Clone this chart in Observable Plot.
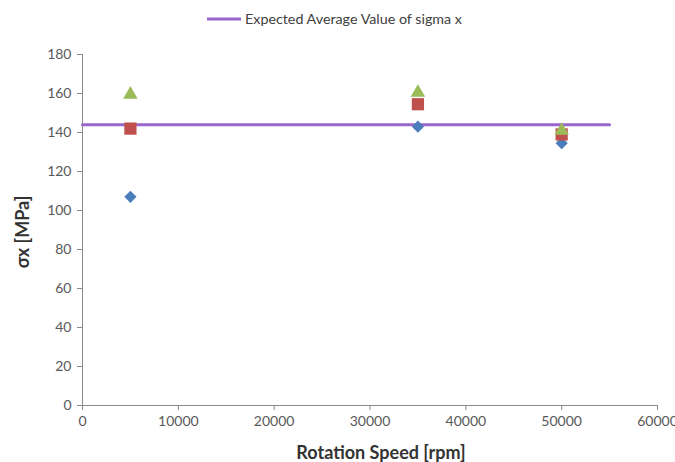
<!DOCTYPE html>
<html>
<head>
<meta charset="utf-8">
<script src="https://cdn.jsdelivr.net/npm/d3@7"></script>
<script src="https://cdn.jsdelivr.net/npm/@observablehq/plot@0.6"></script>
<style>
  html, body { margin: 0; padding: 0; background: #fff; }
  body { width: 675px; height: 462px; overflow: hidden; font-family: Lato, "Open Sans", sans-serif; }
  #legend { height: 36px; position: relative; }
  #legend .item { position: absolute; left: 207px; top: 10px; display: flex; align-items: center; font-size: 14.3px; color: #404040; }
  #legend svg { margin-right: 4px; }
</style>
</head>
<body>
<div id="legend"></div>
<div id="chart"></div>
<script>
// ---- data ----
const speeds = [5000, 35000, 50000];
const seriesDiamond = [107, 143, 134.5];
const seriesSquare = [142, 154.5, 139];
const seriesTriangle = [159.5, 160.5, 141];
const expectedLabel = "Expected Average Value of sigma x";
const expectedValue = 144;
const expectedX = [0, 55000];
const xTicks = [0, 10000, 20000, 30000, 40000, 50000, 60000];
const yTicks = [0, 20, 40, 60, 80, 100, 120, 140, 160, 180];
const xTitle = "Rotation Speed [rpm]";
const yTitle = "σx [MPa]";

const purple = "#9966cc";
const blue = "#4a7ebb";
const red = "#c0504d";
const green = "#9bbb59";
const axisGray = "#8a8a8a";

const toRows = (vals) => speeds.map((s, i) => ({x: s, y: vals[i]}));
const expectedRows = expectedX.map(x => ({x, y: expectedValue}));

// legend
const leg = document.getElementById("legend");
leg.innerHTML = `<div class="item"><svg width="34" height="6"><line x1="0" x2="34" y1="3" y2="3" stroke="${purple}" stroke-width="3"/></svg><span>${expectedLabel}</span></div>`;

const chart = Plot.plot({
  width: 675,
  height: 426,
  marginLeft: 82,
  marginRight: 18,
  marginTop: 18,
  marginBottom: 57,
  style: {fontFamily: "Lato, 'Open Sans', sans-serif", fontSize: "14px", color: "#595959", background: "#fff", overflow: "visible"},
  x: {domain: [0, 60000], label: null},
  y: {domain: [0, 180], label: null},
  marks: [
    Plot.axisX({ticks: xTicks, tickFormat: d => String(d), tickSize: 5, tickPadding: 6, stroke: axisGray, fill: "#595959", fontSize: 14}),
    Plot.axisY({ticks: yTicks, tickFormat: d => String(d), tickSize: 5, tickPadding: 6, stroke: axisGray, fill: "#595959", fontSize: 14}),
    Plot.ruleX([0], {stroke: axisGray}),
    Plot.ruleY([0], {stroke: axisGray}),
    Plot.line(expectedRows, {x: "x", y: "y", stroke: purple, strokeWidth: 3}),
    Plot.dot(toRows(seriesDiamond), {x: "x", y: "y", symbol: "diamond2", r: 5.5, fill: blue, stroke: "none"}),
    Plot.dot(toRows(seriesSquare), {x: "x", y: "y", symbol: "square", r: 6.9, fill: red, stroke: "none"}),
    Plot.dot(toRows(seriesTriangle), {x: "x", y: "y", symbol: "triangle", r: 5.4, fill: green, stroke: "none"}),
    Plot.text([xTitle], {frameAnchor: "bottom", lineAnchor: "middle", dx: 11, dy: 48, fontWeight: "bold", fontSize: 18, fill: "#333"}),
    Plot.text([yTitle], {frameAnchor: "left", textAnchor: "middle", lineAnchor: "middle", dx: -59, dy: 2, rotate: -90, fontWeight: "bold", fontSize: 18, fill: "#333"})
  ]
});
document.getElementById("chart").appendChild(chart);
</script>
</body>
</html>
